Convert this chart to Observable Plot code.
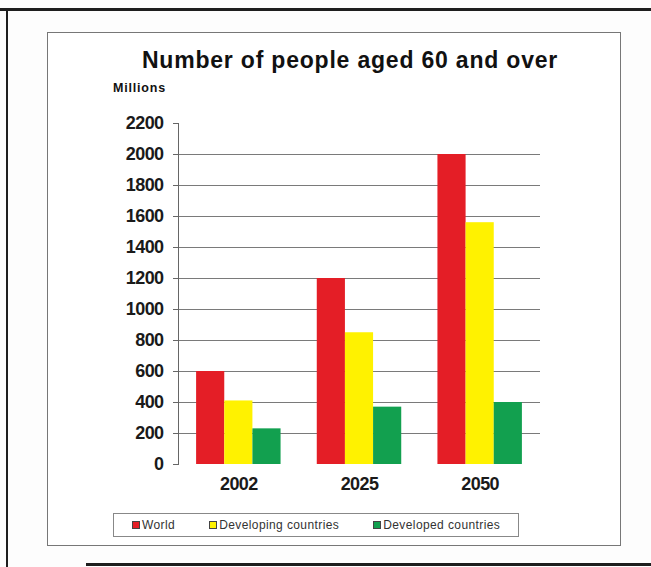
<!DOCTYPE html>
<html>
<head>
<meta charset="utf-8">
<script src="https://cdn.jsdelivr.net/npm/d3@7"></script>
<script src="https://cdn.jsdelivr.net/npm/@observablehq/plot@0.6"></script>
<style>
  html, body { margin: 0; padding: 0; background: #fdfdfd; }
  #page {
    position: relative; width: 651px; height: 567px; overflow: hidden;
    font-family: "Liberation Sans", Arial, sans-serif; color: #111;
  }
  .edge { position: absolute; background: #1e1e1e; }
  #frame {
    position: absolute; left: 47px; top: 32px; width: 572px; height: 512px;
    border: 1px solid #777; background: #fff;
  }
  #title {
    position: absolute; left: 0; width: 700px; top: 47px; text-align: center;
    font-weight: bold; font-size: 23px; letter-spacing: 0.8px;
  }
  #unit { position: absolute; left: 113px; top: 81px; font-weight: bold; font-size: 12.5px; letter-spacing: 0.8px; }
  #chart { position: absolute; left: 0; top: 0; }
  #chart svg text { font-weight: bold; letter-spacing: -0.6px; }
  #legend {
    position: absolute; left: 113px; top: 513px; width: 406px; height: 24px;
    border: 1px solid #888; box-sizing: border-box;
    display: flex; align-items: center; gap: 34px; padding-left: 18px;
    font-size: 12px; letter-spacing: 0.4px; color: #333;
  }
  .item { display: flex; align-items: center; gap: 2px; }
  .swatch { width: 6px; height: 6px; border: 1px solid #444; }
</style>
</head>
<body>
<div id="page">
  <div class="edge" style="left:0;top:8px;width:651px;height:3px"></div>
  <div class="edge" style="left:6px;top:8px;width:2px;height:559px"></div>
  <div class="edge" style="left:86px;top:563px;width:565px;height:3px"></div>
  <div id="frame"></div>
  <div id="title">Number of people aged 60 and over</div>
  <div id="unit">Millions</div>
  <div id="chart"></div>
  <div id="legend"></div>
</div>
<script>
// Population aged 60+ (millions) by year and region group
const years = ["2002", "2025", "2050"];
const series = ["World", "Developing countries", "Developed countries"];
const world = [600, 1200, 2000];
const developing = [410, 850, 1560];
const developed = [230, 370, 400];
const colors = ["#e41e26", "#fff200", "#12a04f"];
const yTicks = [0, 200, 400, 600, 800, 1000, 1200, 1400, 1600, 1800, 2000, 2200];
const gridValues = [200, 400, 600, 800, 1000, 1200, 1400, 1600, 1800, 2000];

// Grouped layout on a linear x: group i is centred on i, bars sit side by side
const groupWidth = 0.7;
const barWidth = groupWidth / series.length;

const valuesBySeries = [world, developing, developed];
const rows = [];
years.forEach((year, gi) => {
  series.forEach((s, si) => rows.push({year, gi, si, series: s, value: valuesBySeries[si][gi]}));
});

const chart = Plot.plot({
  width: 651,
  height: 567,
  marginTop: 123,
  marginBottom: 103,
  marginLeft: 178,
  marginRight: 111,
  style: {background: "transparent", fontFamily: "'Liberation Sans', Arial, sans-serif", fontSize: "18px", color: "#1a1a1a", overflow: "visible"},
  x: {type: "linear", domain: [-0.5, years.length - 0.5], label: null},
  y: {domain: [0, 2200], label: null},
  color: {domain: series, range: colors},
  marks: [
    Plot.ruleY(gridValues, {y: d => d, stroke: "#7a7a7a", strokeWidth: 1}),
    Plot.rect(rows, {
      x1: d => d.gi - groupWidth / 2 + d.si * barWidth,
      x2: d => d.gi - groupWidth / 2 + (d.si + 1) * barWidth,
      y1: 0,
      y2: "value",
      fill: "series"
    }),
    Plot.frame({anchor: "left", stroke: "#666"}),
    Plot.axisY({ticks: yTicks, tickFormat: d3.format("d"), tickSize: 5, tickPadding: 10, stroke: "#666", label: null}),
    Plot.axisX({ticks: d3.range(years.length), tickFormat: i => years[i], tickSize: 0, tickPadding: 13, label: null})
  ]
});
document.getElementById("chart").appendChild(chart);

// Legend built from the same series and colours
const legend = d3.select("#legend");
series.forEach((s, i) => {
  const item = legend.append("div").attr("class", "item");
  item.append("div").attr("class", "swatch").style("background", colors[i]);
  item.append("span").text(s);
});
</script>
</body>
</html>
